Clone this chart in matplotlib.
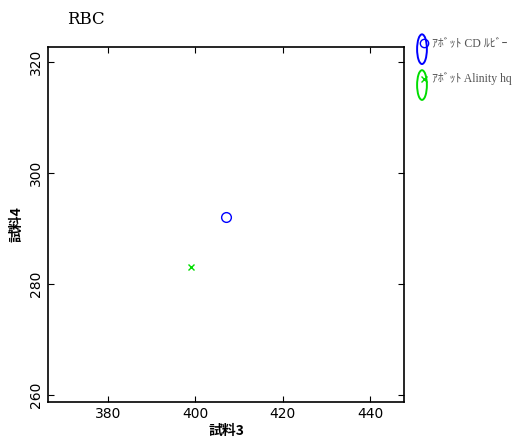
import matplotlib
matplotlib.use('Agg')
import matplotlib.pyplot as plt
from matplotlib.patches import Ellipse
from matplotlib.lines import Line2D

# data
series_names = ['ｱﾎﾞｯﾄ CD ﾙﾋﾞｰ', 'ｱﾎﾞｯﾄ Alinity hq']
x_vals = [407, 399]
y_vals = [292, 283]
markers = ['o', 'x']
colors = ['#0000ff', '#00dd00']
xticks = [380, 400, 420, 440]
yticks = [260, 280, 300, 320]

plt.rcParams['font.family'] = ['DejaVu Sans', 'Noto Sans CJK JP']

fig = plt.figure(figsize=(5.15, 4.43), dpi=100)
ax = fig.add_axes([0.0932, 0.0926, 0.6913, 0.8014])

for xv, yv, m, c in zip(x_vals, y_vals, markers, colors):
    if m == 'o':
        ax.plot([xv], [yv], m, ms=7, mfc='none', mec=c, mew=1.0)
    else:
        ax.plot([xv], [yv], m, ms=5, color=c, mew=1.0)

ax.set_xlim(366.3, 447.8)
ax.set_ylim(258.7, 322.7)
ax.set_xticks(xticks)
ax.set_yticks(yticks)
ax.tick_params(direction='in', top=True, right=True, length=4, labelsize=10)
for lab in ax.get_yticklabels():
    lab.set_rotation(90)
    lab.set_va('center')
for s in ax.spines.values():
    s.set_linewidth(1.2)

ax.set_xlabel('試料3', family=['Noto Sans CJK JP'], fontweight='bold', fontsize=10, labelpad=2)
ax.set_ylabel('試料4', family=['Noto Sans CJK JP'], fontweight='bold', fontsize=10, labelpad=4)
fig.text(0.130, 0.955, 'RBC', family=['DejaVu Serif'], fontsize=12, va='center')

# hand-drawn looking legend outside the axes
ell_y = [0.889, 0.808]
mk_y = [0.903, 0.822]
for i, (name, m, c) in enumerate(zip(series_names, markers, colors)):
    fig.add_artist(Ellipse((0.8194, ell_y[i]), 0.019, 0.067, fill=False, ec=c, lw=1.4,
                           transform=fig.transFigure))
    if m == 'o':
        fig.add_artist(Line2D([0.8233], [mk_y[i]], marker='o', ms=6, mfc='none',
                              mec=c, mew=1.0, transform=fig.transFigure))
    else:
        fig.add_artist(Line2D([0.8233], [mk_y[i]], marker='x', ms=4, color=c,
                              mew=1.0, transform=fig.transFigure))
    fig.text(0.838, mk_y[i], name, family=['Liberation Serif', 'Noto Sans CJK JP'],
             fontsize=8.5, color='#555555', va='center')

fig.savefig('out.png', dpi=100)
